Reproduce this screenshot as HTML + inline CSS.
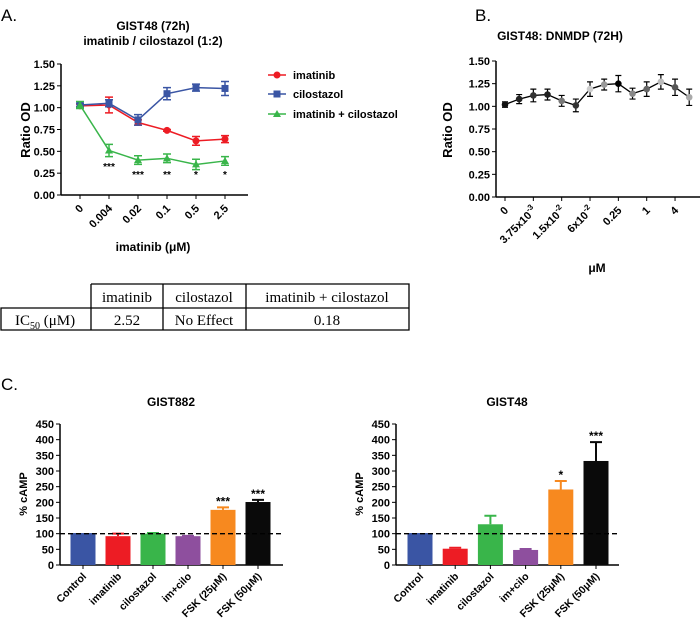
<!DOCTYPE html>
<html><head><meta charset="utf-8"><style>
body{margin:0;background:#fff;}
svg{display:block;font-family:"Liberation Sans",Arial,sans-serif;}
.b{font-weight:bold;}
</style></head><body>
<svg id="fig" width="700" height="627" viewBox="0 0 700 627">
<text x="1" y="21" font-size="17">A.</text>
<text x="475" y="21" font-size="17">B.</text>
<text x="1" y="390" font-size="17">C.</text>
<text x="153" y="30" font-size="12" class="b" text-anchor="middle">GIST48 (72h)</text>
<text x="153" y="45" font-size="12" class="b" text-anchor="middle">imatinib / cilostazol (1:2)</text>
<text x="153" y="251" font-size="12" class="b" text-anchor="middle">imatinib (μM)</text>
<text transform="translate(30,130) rotate(-90)" font-size="13" class="b" text-anchor="middle">Ratio OD</text>
<text x="560" y="40" font-size="12" class="b" text-anchor="middle">GIST48: DNMDP (72H)</text>
<text transform="translate(452,130) rotate(-90)" font-size="13" class="b" text-anchor="middle">Ratio OD</text>
<text x="597" y="272" font-size="12" class="b" text-anchor="middle">μM</text>
<text x="171" y="406" font-size="12" class="b" text-anchor="middle">GIST882</text>
<text x="507" y="406" font-size="12" class="b" text-anchor="middle">GIST48</text>
<text transform="translate(27,494) rotate(-90)" font-size="11" class="b" text-anchor="middle">% cAMP</text>
<text transform="translate(363,494) rotate(-90)" font-size="11" class="b" text-anchor="middle">% cAMP</text>
<g font-family="Liberation Serif,serif" font-size="15">
<path d="M91,284H409V330H1V308H409M91,284V330M163,284V330M246,284V330M409,284V330M1,308V330" fill="none" stroke="#000" stroke-width="1.3"/>
<text x="127" y="302" text-anchor="middle">imatinib</text>
<text x="204" y="302" text-anchor="middle">cilostazol</text>
<text x="327" y="302" text-anchor="middle">imatinib + cilostazol</text>
<text x="15" y="325">IC<tspan font-size="10" dy="4">50</tspan><tspan dy="-4"> (μM)</tspan></text>
<text x="127" y="325" text-anchor="middle">2.52</text>
<text x="204" y="325" text-anchor="middle">No Effect</text>
<text x="327" y="325" text-anchor="middle">0.18</text>
</g>
<g id="g"></g>
</svg>
<script>
const aLabels=["0","0.004","0.02","0.1","0.5","2.5"];
const aImat=[1.02,1.03,0.83,0.74,0.62,0.64];
const aImatErr=[0.02,0.09,0.03,0.01,0.05,0.04];
const aCilo=[1.03,1.05,0.86,1.16,1.23,1.22];
const aCiloErr=[0.02,0.04,0.06,0.07,0.04,0.08];
const aCombo=[1.03,0.51,0.40,0.42,0.35,0.39];
const aComboErr=[0.04,0.07,0.05,0.05,0.06,0.05];
const aStars=["","***","***","**","*","*"];
const yTicks=[0,0.25,0.5,0.75,1.0,1.25,1.5];
const bValues=[1.02,1.08,1.12,1.13,1.06,1.01,1.19,1.24,1.25,1.14,1.19,1.27,1.21,1.10];
const bErr=[0.03,0.05,0.07,0.06,0.06,0.07,0.08,0.06,0.09,0.06,0.08,0.08,0.09,0.09];
const bShades=["#111","#222","#333","#222","#777","#333","#ccc","#999","#000","#888","#666","#bbb","#555","#aaa"];
const bTickLabels=["0","3.75x10^-3","1.5x10^-2","6x10^-2","0.25","1","4"];
const cCats=["Control","imatinib","cilostazol","im+cilo","FSK (25μM)","FSK (50μM)"];
const cColors=["#3a55a4","#ed1c24","#39b54a","#8e4f9e","#f7891f","#0a0a0a"];
const c882=[102,92,100,92,176,201];
const c882Err=[0,8,2,1,8,7];
const c882Stars=["","","","","***","***"];
const c48=[102,52,130,48,241,332];
const c48Err=[0,3,27,3,27,60];
const c48Stars=["","","","","*","***"];
const cTicks=[0,50,100,150,200,250,300,350,400,450];

const NS="http://www.w3.org/2000/svg";
const G=document.getElementById('g');
function mk(t,a,p){const e=document.createElementNS(NS,t);for(const k in a)e.setAttribute(k,a[k]);(p||G).appendChild(e);return e;}
function fmt(v){return v.toFixed(2);}

// Panel A
const ax0=61,ay0=195,ay1=64;
const aY=v=>ay0-(v/1.5)*(ay0-ay1);
const aX=i=>80+i*29;
let e=mk('line',{x1:ax0,y1:ay1,x2:ax0,y2:ay0,stroke:'#000','stroke-width':1.5});

e=mk('line',{x1:ax0,y1:ay0,x2:248,y2:ay0,stroke:'#000','stroke-width':1.5});

yTicks.forEach(v=>{mk('line',{x1:ax0-4,y1:aY(v),x2:ax0,y2:aY(v),stroke:'#000'});
 e=mk('text',{x:ax0-6,y:aY(v)+4,'font-size':11,'font-weight':'bold','text-anchor':'end'});e.textContent=fmt(v);
 });
aLabels.forEach((l,i)=>{mk('line',{x1:aX(i),y1:ay0,x2:aX(i),y2:ay0+4,stroke:'#000'});
 e=mk('text',{transform:`translate(${aX(i)+4},${ay0+14}) rotate(-45)`,'font-size':11,'font-weight':'bold','text-anchor':'end'});e.textContent=l;
 });
function series(vals,errs,col,shape,name){
 const gg=mk('g',{});
 mk('polyline',{points:vals.map((v,i)=>aX(i)+','+aY(v)).join(' '),fill:'none',stroke:col,'stroke-width':1.5},gg);
 vals.forEach((v,i)=>{const x=aX(i),t=aY(v+errs[i]),b=aY(v-errs[i]);
  mk('path',{d:`M${x},${t}V${b}M${x-4},${t}H${x+4}M${x-4},${b}H${x+4}`,stroke:col,'stroke-width':1.5,fill:'none'},gg);
  marker(x,aY(v),col,shape,gg);});
}
function marker(x,y,col,shape,p){
 if(shape==='c')mk('circle',{cx:x,cy:y,r:3.5,fill:col},p);
 else if(shape==='s')mk('rect',{x:x-3.5,y:y-3.5,width:7,height:7,fill:col},p);
 else mk('path',{d:`M${x},${y-4}L${x+4},${y+3}H${x-4}Z`,fill:col},p);
}
series(aImat,aImatErr,'#ed1c24','c','imatinib-series');
series(aCilo,aCiloErr,'#3a55a4','s','cilostazol-series');
series(aCombo,aComboErr,'#39b54a','t','combo-series');
aStars.forEach((s,i)=>{if(!s)return;e=mk('text',{x:aX(i),y:i===1?170:178,'font-size':10,'font-weight':'bold','text-anchor':'middle'});e.textContent=s;
 });
[['imatinib','#ed1c24','c',75],['cilostazol','#3a55a4','s',94],['imatinib + cilostazol','#39b54a','t',114]].forEach(([n,c,s,y])=>{
 const gg=mk('g',{});
 mk('line',{x1:268,y1:y,x2:286,y2:y,stroke:c,'stroke-width':1.5},gg);marker(277,y,c,s,gg);
 const t=mk('text',{x:293,y:y+4,'font-size':11,'font-weight':'bold'},gg);t.textContent=n;});

// Panel B
const bx0=496,by0=197,by1=61;
const bY=v=>by0-(v/1.5)*(by0-by1);
const bX=i=>505+i*14.17;
e=mk('line',{x1:bx0,y1:by1,x2:bx0,y2:by0,stroke:'#000','stroke-width':1.5});

e=mk('line',{x1:bx0,y1:by0,x2:700,y2:by0,stroke:'#000','stroke-width':1.5});

yTicks.forEach(v=>{mk('line',{x1:bx0-4,y1:bY(v),x2:bx0,y2:bY(v),stroke:'#000'});
 e=mk('text',{x:bx0-6,y:bY(v)+4,'font-size':11,'font-weight':'bold','text-anchor':'end'});e.textContent=fmt(v);
 });
bTickLabels.forEach((l,j)=>{const x=bX(j*2);mk('line',{x1:x,y1:by0,x2:x,y2:by0+4,stroke:'#000'});
 e=mk('text',{transform:`translate(${x+4},${by0+14}) rotate(-45)`,'font-size':11,'font-weight':'bold','text-anchor':'end'});
 const p=l.split('^');e.textContent=p[0];if(p[1]){const ts=mk('tspan',{dy:-5,'font-size':8},e);ts.textContent=p[1];}
 });
const bg=mk('g',{});
mk('polyline',{points:bValues.map((v,i)=>bX(i)+','+bY(v)).join(' '),fill:'none',stroke:'#000','stroke-width':1.3},bg);
bValues.forEach((v,i)=>{const x=bX(i),t=bY(v+bErr[i]),b=bY(v-bErr[i]);
 mk('path',{d:`M${x},${t}V${b}M${x-3},${t}H${x+3}M${x-3},${b}H${x+3}`,stroke:'#000','stroke-width':1.2,fill:'none'},bg);
 mk('circle',{cx:x,cy:bY(v),r:3.3,fill:bShades[i]},bg);});

// Panel C
function barChart(ox,axEnd,cx0,step,vals,errs,stars,name){
 const y0=565,y1=424;const Y=v=>y0-(v/450)*(y0-y1);
 const gg=mk('g',{});
 mk('line',{x1:ox,y1:y1,x2:ox,y2:y0,stroke:'#000','stroke-width':1.5},gg);
 mk('line',{x1:ox,y1:y0,x2:axEnd,y2:y0,stroke:'#000','stroke-width':1.5},gg);
 cTicks.forEach(v=>{mk('line',{x1:ox-4,y1:Y(v),x2:ox,y2:Y(v),stroke:'#000'},gg);
  const t=mk('text',{x:ox-6,y:Y(v)+4,'font-size':11,'font-weight':'bold','text-anchor':'end'},gg);t.textContent=v;});
 vals.forEach((v,i)=>{const cx=cx0+i*step;
  const r=mk('rect',{x:cx-12.5,y:Y(v),width:25,height:y0-Y(v),fill:cColors[i]},gg);
  
  if(errs[i]>0)mk('path',{d:`M${cx},${Y(v)}V${Y(v+errs[i])}M${cx-6},${Y(v+errs[i])}H${cx+6}`,stroke:cColors[i],'stroke-width':2,fill:'none'},gg);
  if(stars[i]){const s=mk('text',{x:cx,y:Y(v+errs[i])-2,'font-size':12,'font-weight':'bold','text-anchor':'middle'},gg);s.textContent=stars[i];}
  mk('line',{x1:cx,y1:y0,x2:cx,y2:y0+4,stroke:'#000'},gg);
  const t=mk('text',{transform:`translate(${cx+4},${y0+12}) rotate(-45)`,'font-size':10.5,'font-weight':'bold','text-anchor':'end'},gg);t.textContent=cCats[i];});
 mk('line',{x1:ox,y1:Y(100),x2:axEnd,y2:Y(100),stroke:'#000','stroke-width':1.3,'stroke-dasharray':'5,3'},gg);
}
barChart(60,283,83,35,c882,c882Err,c882Stars,'gist882-chart');
barChart(396,619,420,35.2,c48,c48Err,c48Stars,'gist48-chart');
</script>
</body></html>
